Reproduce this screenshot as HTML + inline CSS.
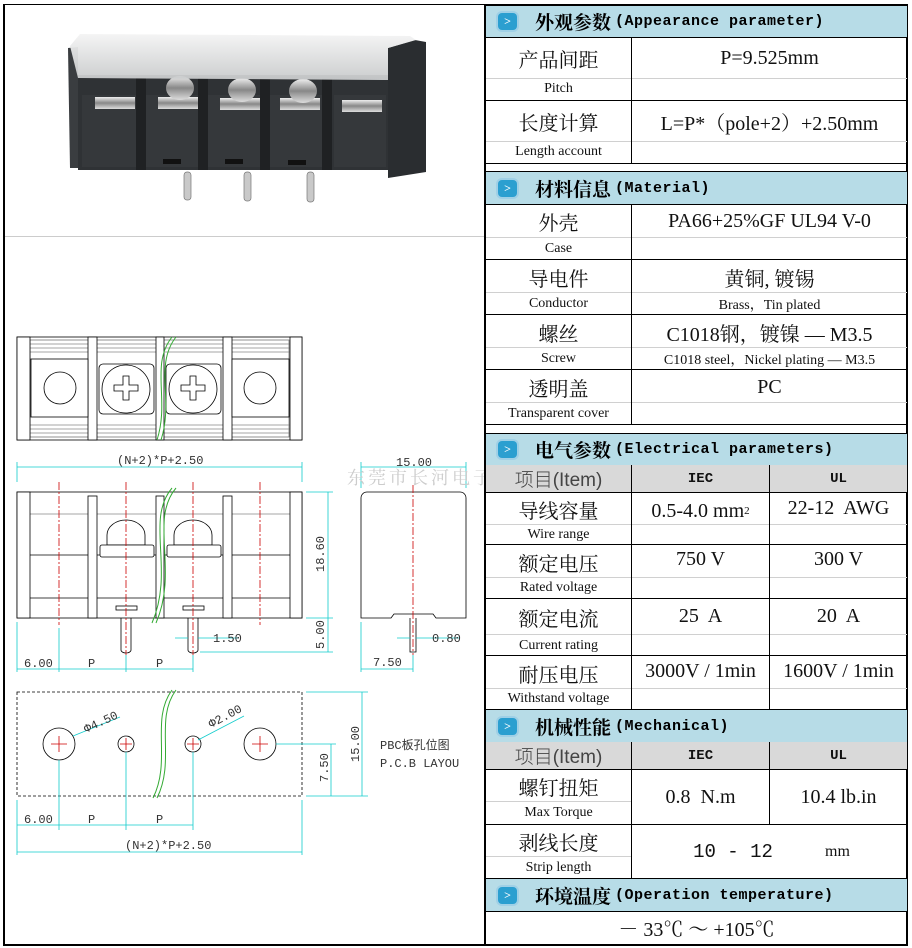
<!DOCTYPE html>
<html><head><meta charset="utf-8">
<style>
body{margin:0;width:912px;height:948px;background:#fff;position:relative;overflow:hidden;font-family:"Liberation Serif","Noto Serif CJK SC",serif;}
.a{position:absolute;}
.t{position:absolute;display:flex;align-items:center;justify-content:center;white-space:nowrap;color:#111;}
.zh{font-size:20px;font-family:"Liberation Serif","Noto Serif CJK SC",serif;}
.en{font-size:14px;}
.v{font-size:20px;}
.h{position:absolute;left:486px;width:421px;background:#b7dce7;border-top:1px solid #000;border-bottom:1px solid #000;display:flex;align-items:center;font-size:19px;font-weight:bold;font-family:"Liberation Serif","Noto Serif CJK SC",serif;}
.h i{display:inline-block;width:19px;height:17px;border-radius:4px;background:#2b9fd0;color:#fff;font-style:normal;font-size:12px;line-height:17px;text-align:center;margin:0 18px 0 12px;box-shadow:0 0 0 2px #9fd0e6;}
.h span{font-family:"Liberation Mono",monospace;font-size:15px;margin-left:4px;letter-spacing:0.5px}
.hl{position:absolute;height:1px;background:#000;}
.vl{position:absolute;width:1px;background:#000;}
.gl{position:absolute;height:1px;background:#d0d0d0;}
.gray{position:absolute;background:#d9d9d9;}
.it{font-family:"Liberation Sans","Noto Sans CJK SC",sans-serif;font-size:19px;color:#444;font-weight:300}
</style></head><body>
<div class="a" style="left:3px;top:4px;width:2px;height:942px;background:#000"></div>
<div class="a" style="left:3px;top:4px;width:905px;height:1px;background:#000"></div>
<div class="a" style="left:3px;top:944px;width:905px;height:2px;background:#000"></div>
<div class="a" style="left:906px;top:4px;width:2px;height:942px;background:#000"></div>
<div class="a" style="left:484px;top:4px;width:2px;height:942px;background:#000"></div>
<div class="a" style="left:5px;top:236px;width:479px;height:1px;background:#ccc"></div>

<svg class="a" style="left:0;top:0" width="484" height="948" viewBox="0 0 484 948">
<defs>
<linearGradient id="cov" x1="0" y1="0" x2="0" y2="1"><stop offset="0" stop-color="#f4f4f4"/><stop offset="1" stop-color="#c9cbcc"/></linearGradient>
<linearGradient id="met" x1="0" y1="0" x2="0" y2="1"><stop offset="0" stop-color="#eee"/><stop offset="0.5" stop-color="#888"/><stop offset="1" stop-color="#ddd"/></linearGradient>
</defs>
<polygon points="68,48 78,47 78,168 70,168" fill="#3a3d40"/>
<rect x="78" y="75" width="310" height="95" fill="#2f3235"/>
<polygon points="388,48 415,40 426,42 426,172 388,178" fill="#2a2d30"/>
<rect x="82" y="95" width="54" height="72" fill="#35383b"/>
<rect x="146" y="95" width="52" height="72" fill="#35383b"/>
<rect x="208" y="95" width="52" height="72" fill="#35383b"/>
<rect x="270" y="95" width="52" height="72" fill="#35383b"/>
<rect x="334" y="95" width="52" height="72" fill="#35383b"/>
<rect x="136" y="78" width="10" height="92" fill="#1f2123"/>
<rect x="198" y="78" width="10" height="92" fill="#1f2123"/>
<rect x="260" y="78" width="10" height="92" fill="#1f2123"/>
<rect x="322" y="78" width="10" height="92" fill="#1f2123"/>
<rect x="95" y="97" width="40" height="12" fill="url(#met)"/>
<rect x="158" y="97" width="40" height="12" fill="url(#met)"/>
<rect x="220" y="98" width="40" height="12" fill="url(#met)"/>
<rect x="280" y="98" width="40" height="12" fill="url(#met)"/>
<rect x="342" y="100" width="40" height="12" fill="url(#met)"/>
<ellipse cx="180" cy="88" rx="14" ry="12" fill="url(#met)"/>
<ellipse cx="242" cy="90" rx="14" ry="12" fill="url(#met)"/>
<ellipse cx="303" cy="91" rx="14" ry="12" fill="url(#met)"/>
<polygon points="70,46 80,34 410,36 416,40 388,48 388,80 78,78" fill="url(#cov)" opacity="0.95"/>
<rect x="163" y="159" width="18" height="5" fill="#111"/><rect x="225" y="159" width="18" height="5" fill="#111"/><rect x="288" y="160" width="18" height="5" fill="#111"/>
<rect x="184" y="172" width="7" height="28" rx="3" fill="#c9c9c9" stroke="#777" stroke-width="0.7"/>
<rect x="244" y="172" width="7" height="29" rx="3" fill="#c9c9c9" stroke="#777" stroke-width="0.7"/>
<rect x="307" y="172" width="7" height="30" rx="3" fill="#c9c9c9" stroke="#777" stroke-width="0.7"/>

<g fill="none" stroke="#000" stroke-width="0.8">
<rect x="17" y="337" width="285" height="103"/>
<rect x="30" y="340" width="259" height="97" stroke="#777"/>
<line x1="30" y1="344" x2="290" y2="344" stroke="#888"/><line x1="30" y1="348" x2="290" y2="348" stroke="#888"/><line x1="30" y1="352" x2="290" y2="352" stroke="#888"/>
<line x1="30" y1="425" x2="290" y2="425" stroke="#888"/><line x1="30" y1="429" x2="290" y2="429" stroke="#888"/><line x1="30" y1="433" x2="290" y2="433" stroke="#888"/>
<rect x="17" y="337" width="13" height="103" fill="#fff"/>
<rect x="88" y="337" width="9" height="103" fill="#fff"/>
<rect x="156" y="337" width="8" height="103" fill="#fff"/>
<rect x="223" y="337" width="9" height="103" fill="#fff"/>
<rect x="290" y="337" width="12" height="103" fill="#fff"/>
<rect x="31" y="359" width="57" height="58" fill="#fff"/>
<rect x="232" y="359" width="57" height="58" fill="#fff"/>
<rect x="99" y="364" width="55" height="50" rx="4" fill="#fff"/>
<rect x="166" y="364" width="55" height="50" rx="4" fill="#fff"/>
<circle cx="60" cy="388" r="16"/><circle cx="260" cy="388" r="16"/>
<circle cx="126" cy="389" r="24"/><circle cx="193" cy="389" r="24"/>
<path d="M123,376h6v9h9v6h-9v9h-6v-9h-9v-6h9z"/>
<path d="M190,376h6v9h9v6h-9v9h-6v-9h-9v-6h9z"/>
<rect x="17" y="492" width="285" height="126"/>
<line x1="30" y1="555" x2="290" y2="555"/>
<line x1="30" y1="598" x2="290" y2="598"/>
<line x1="30" y1="514" x2="290" y2="514" stroke="#888"/>
<rect x="17" y="492" width="13" height="126" fill="#fff"/>
<rect x="88" y="496" width="9" height="122" fill="#fff"/>
<rect x="156" y="496" width="8" height="122" fill="#fff"/>
<rect x="223" y="496" width="9" height="122" fill="#fff"/>
<rect x="290" y="492" width="12" height="126" fill="#fff"/>
<path d="M107,535 a19,15 0 0 1 38,0 v10 h-38z" fill="#fff"/>
<path d="M174,535 a19,15 0 0 1 38,0 v10 h-38z" fill="#fff"/>
<rect x="100" y="545" width="54" height="12" rx="2" fill="#fff"/>
<rect x="167" y="545" width="54" height="12" rx="2" fill="#fff"/>
<rect x="116" y="606" width="21" height="4"/><rect x="183" y="606" width="21" height="4"/>
<path d="M121,618v32a5,3 0 0 0 10,0v-32"/>
<path d="M188,618v32a5,3 0 0 0 10,0v-32"/>
<path d="M361,498 a6,6 0 0 1 6,-6 h93 a6,6 0 0 1 6,6 v120 h-30 l-3,-4 h-39 l-3,4 h-30z"/>
<path d="M410,618v34h6v-34"/>
<rect x="17" y="692" width="285" height="104" stroke-dasharray="3,2"/>
<circle cx="59" cy="744" r="16"/><circle cx="260" cy="744" r="16"/>
<circle cx="126" cy="744" r="8"/><circle cx="193" cy="744" r="8"/>
</g>
<g stroke="#c00" stroke-width="0.8" fill="none">
<g stroke-dasharray="8,2,2,2"><line x1="59" y1="482" x2="59" y2="625"/><line x1="126" y1="482" x2="126" y2="655"/><line x1="193" y1="482" x2="193" y2="655"/><line x1="260" y1="482" x2="260" y2="625"/><line x1="413" y1="485" x2="413" y2="655"/></g>
<path d="M51,744h16M59,736v16M252,744h16M260,736v16M120,744h12M126,738v12M187,744h12M193,738v12"/>
</g>
<g stroke="#3a3" stroke-width="1" fill="none">
<path d="M172,337 C150,365 170,400 157,440"/><path d="M176,337 C154,365 174,400 161,440"/>
<path d="M172,488 C145,520 175,570 152,623"/><path d="M176,488 C149,520 179,570 156,623"/>
<path d="M172,690 C150,720 172,760 153,798"/><path d="M176,690 C154,720 176,760 157,798"/>
</g>
<g stroke="#1cc" stroke-width="0.8" fill="none">
<path d="M17,462V482M302,462V482M17,467H302"/>
<path d="M306,492H333M306,618H333M200,652H333M328,492V652"/>
<path d="M17,622V672M59,628V672M126,655V672M193,655V672M17,669H193"/>
<path d="M175,638H188M198,638H238"/>
<path d="M361,462V488M466,462V488M361,467H466"/>
<path d="M361,622V672M413,655V672M361,669H413M397,638H410M416,638H460"/>
<path d="M306,692H368M306,796H368M362,692V796M276,744H336M331,744V796"/>
<path d="M17,800V855M59,760V830M126,752V830M193,752V830M302,800V855M17,825H193M17,852H302"/>
<path d="M73,736L120,717M198,740L244,716"/>
</g>
<g font-family="'Liberation Mono',monospace" font-size="12" fill="#333">
<text x="117" y="464">(N+2)*P+2.50</text>
<text x="396" y="466">15.00</text>
<text x="24" y="667">6.00</text><text x="88" y="667">P</text><text x="156" y="667">P</text>
<text x="213" y="642">1.50</text><text x="432" y="642">0.80</text>
<text x="373" y="666">7.50</text>
<text transform="translate(324,572) rotate(-90)" x="0" y="0">18.60</text>
<text transform="translate(324,649) rotate(-90)">5.00</text>
<text x="24" y="823">6.00</text><text x="88" y="823">P</text><text x="156" y="823">P</text>
<text x="125" y="849">(N+2)*P+2.50</text>
<text transform="translate(359,762) rotate(-90)">15.00</text>
<text transform="translate(328,782) rotate(-90)">7.50</text>
<text transform="translate(86,733) rotate(-25)">Φ4.50</text>
<text transform="translate(211,728) rotate(-28)">Φ2.00</text>
<text x="380" y="749" font-family="'Liberation Mono','Noto Sans CJK SC',monospace">PBC板孔位图</text>
<text x="380" y="767">P.C.B LAYOU</text>
</g>
<text x="347" y="484" font-family="'Noto Serif CJK SC',serif" font-size="18" fill="#ccc" letter-spacing="3">东莞市长河电子</text>
</svg>

<div class="h" style="top:5px;height:31px"><i>&gt;</i>外观参数<span>(Appearance parameter)</span></div>
<div class="t zh" style="left:486px;top:38px;width:145px;height:40px">产品间距</div>
<div class="t en" style="left:486px;top:78px;width:145px;height:22px">Pitch</div>
<div class="t v" style="left:632px;top:38px;width:275px;height:40px">P=9.525mm</div>
<div class="gl" style="left:486px;top:78px;width:421px"></div>
<div class="hl" style="left:486px;top:100px;width:421px"></div>
<div class="t zh" style="left:486px;top:101px;width:145px;height:40px">长度计算</div>
<div class="t en" style="left:486px;top:141px;width:145px;height:22px">Length account</div>
<div class="t v" style="left:632px;top:101px;width:275px;height:40px">L=P*（pole+2）+2.50mm</div>
<div class="gl" style="left:486px;top:141px;width:421px"></div>
<div class="hl" style="left:486px;top:163px;width:421px"></div>
<div class="vl" style="left:631px;top:37px;height:126px"></div>

<div class="h" style="top:171px;height:32px"><i>&gt;</i>材料信息<span>(Material)</span></div>
<div class="t zh" style="left:486px;top:204px;width:145px;height:34px">外壳</div>
<div class="t en" style="left:486px;top:238px;width:145px;height:21px">Case</div>
<div class="t v" style="left:632px;top:204px;width:275px;height:34px">PA66+25%GF UL94 V-0</div>
<div class="gl" style="left:486px;top:237px;width:421px"></div>
<div class="hl" style="left:486px;top:259px;width:421px"></div>
<div class="t zh" style="left:486px;top:260px;width:145px;height:34px">导电件</div>
<div class="t en" style="left:486px;top:294px;width:145px;height:20px">Conductor</div>
<div class="t v" style="left:632px;top:260px;width:275px;height:34px">黄铜, 镀锡</div>
<div class="t en" style="left:632px;top:294px;width:275px;height:20px">Brass，Tin plated</div>
<div class="gl" style="left:486px;top:292px;width:421px"></div>
<div class="hl" style="left:486px;top:314px;width:421px"></div>
<div class="t zh" style="left:486px;top:315px;width:145px;height:34px">螺丝</div>
<div class="t en" style="left:486px;top:349px;width:145px;height:20px">Screw</div>
<div class="t v" style="left:632px;top:315px;width:275px;height:34px">C1018钢，镀镍 — M3.5</div>
<div class="t en" style="left:632px;top:349px;width:275px;height:20px">C1018 steel，Nickel plating — M3.5</div>
<div class="gl" style="left:486px;top:347px;width:421px"></div>
<div class="hl" style="left:486px;top:369px;width:421px"></div>
<div class="t zh" style="left:486px;top:370px;width:145px;height:34px">透明盖</div>
<div class="t en" style="left:486px;top:404px;width:145px;height:20px">Transparent cover</div>
<div class="t v" style="left:632px;top:370px;width:275px;height:34px">PC</div>
<div class="gl" style="left:486px;top:402px;width:421px"></div>
<div class="hl" style="left:486px;top:424px;width:421px"></div>
<div class="vl" style="left:631px;top:204px;height:220px"></div>

<div class="h" style="top:433px;height:31px"><i>&gt;</i>电气参数<span>(Electrical parameters)</span></div>
<div class="gray" style="left:486px;top:465px;width:421px;height:27px"></div>
<div class="t it" style="left:486px;top:465px;width:145px;height:27px">项目(Item)</div>
<div class="t" style="left:632px;top:465px;width:137px;height:27px;font-family:'Liberation Mono',monospace;font-weight:bold;font-size:14px">IEC</div>
<div class="t" style="left:770px;top:465px;width:137px;height:27px;font-family:'Liberation Mono',monospace;font-weight:bold;font-size:14px">UL</div>
<div class="hl" style="left:486px;top:492px;width:421px"></div>
<div class="t zh" style="left:486px;top:493px;width:145px;height:32px">导线容量</div>
<div class="t en" style="left:486px;top:525px;width:145px;height:20px">Wire range</div>
<div class="t v" style="left:632px;top:495px;width:137px;height:32px">0.5-4.0 mm<sup style="font-size:11px">2</sup></div>
<div class="t v" style="left:770px;top:493px;width:137px;height:30px">22-12&nbsp; AWG</div>
<div class="gl" style="left:486px;top:524px;width:421px"></div>
<div class="hl" style="left:486px;top:544px;width:421px"></div>
<div class="t zh" style="left:486px;top:545px;width:145px;height:34px">额定电压</div>
<div class="t en" style="left:486px;top:578px;width:145px;height:20px">Rated voltage</div>
<div class="t v" style="left:632px;top:545px;width:137px;height:28px">750 V</div>
<div class="t v" style="left:770px;top:545px;width:137px;height:28px">300 V</div>
<div class="gl" style="left:486px;top:577px;width:421px"></div>
<div class="hl" style="left:486px;top:598px;width:421px"></div>
<div class="t zh" style="left:486px;top:599px;width:145px;height:36px">额定电流</div>
<div class="t en" style="left:486px;top:636px;width:145px;height:20px">Current rating</div>
<div class="t v" style="left:632px;top:599px;width:137px;height:34px">25&nbsp; A</div>
<div class="t v" style="left:770px;top:599px;width:137px;height:34px">20&nbsp; A</div>
<div class="gl" style="left:486px;top:634px;width:421px"></div>
<div class="hl" style="left:486px;top:655px;width:421px"></div>
<div class="t zh" style="left:486px;top:656px;width:145px;height:34px">耐压电压</div>
<div class="t en" style="left:486px;top:689px;width:145px;height:20px">Withstand voltage</div>
<div class="t v" style="left:632px;top:656px;width:137px;height:30px">3000V / 1min</div>
<div class="t v" style="left:770px;top:656px;width:137px;height:30px">1600V / 1min</div>
<div class="gl" style="left:486px;top:688px;width:421px"></div>
<div class="vl" style="left:631px;top:465px;height:245px"></div>
<div class="vl" style="left:769px;top:465px;height:245px"></div>

<div class="h" style="top:709px;height:32px"><i>&gt;</i>机械性能<span>(Mechanical)</span></div>
<div class="gray" style="left:486px;top:742px;width:421px;height:27px"></div>
<div class="t it" style="left:486px;top:742px;width:145px;height:27px">项目(Item)</div>
<div class="t" style="left:632px;top:742px;width:137px;height:27px;font-family:'Liberation Mono',monospace;font-weight:bold;font-size:14px">IEC</div>
<div class="t" style="left:770px;top:742px;width:137px;height:27px;font-family:'Liberation Mono',monospace;font-weight:bold;font-size:14px">UL</div>
<div class="hl" style="left:486px;top:769px;width:421px"></div>
<div class="t zh" style="left:486px;top:770px;width:145px;height:32px">螺钉扭矩</div>
<div class="t en" style="left:486px;top:802px;width:145px;height:22px">Max Torque</div>
<div class="t v" style="left:632px;top:770px;width:137px;height:54px">0.8&nbsp; N.m</div>
<div class="t v" style="left:770px;top:770px;width:137px;height:54px">10.4 lb.in</div>
<div class="gl" style="left:486px;top:801px;width:145px"></div>
<div class="hl" style="left:486px;top:824px;width:421px"></div>
<div class="t zh" style="left:486px;top:825px;width:145px;height:32px">剥线长度</div>
<div class="t en" style="left:486px;top:857px;width:145px;height:22px">Strip length</div>
<div class="t v" style="left:678px;top:825px;width:110px;height:54px;font-family:'Liberation Mono',monospace;font-size:19px">10 - 12</div>
<div class="t" style="left:815px;top:825px;width:45px;height:54px;font-size:16px">mm</div>
<div class="gl" style="left:486px;top:856px;width:145px"></div>
<div class="vl" style="left:631px;top:742px;height:137px"></div>
<div class="vl" style="left:769px;top:742px;height:82px"></div>

<div class="h" style="top:878px;height:32px"><i>&gt;</i>环境温度<span>(Operation temperature)</span></div>
<div class="t v" style="left:486px;top:911px;width:421px;height:33px">－ 33℃ ～ +105℃</div>
</body></html>
